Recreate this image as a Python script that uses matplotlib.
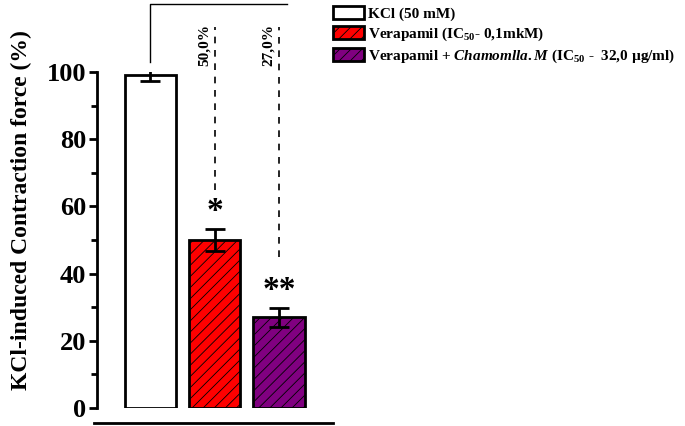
import matplotlib
matplotlib.use('Agg')
import matplotlib.pyplot as plt
from matplotlib.patches import Patch

plt.rcParams['font.family'] = 'Liberation Serif'
plt.rcParams['font.weight'] = 'bold'
plt.rcParams['mathtext.fontset'] = 'custom'
plt.rcParams['mathtext.rm'] = 'Liberation Serif:bold'
plt.rcParams['mathtext.bf'] = 'Liberation Serif:bold'
plt.rcParams['mathtext.it'] = 'Liberation Serif:bold:italic'
plt.rcParams['hatch.linewidth'] = 0.6

# data
groups = ['KCl (50 mM)',
          'Verapamil (IC$_{50}$- 0,1mkM)',
          r'Verapamil + $\mathit{Chamomlla.M}$ (IC$_{50}$ -  32,0 µg/ml)']
values = [99.0, 50.0, 27.0]
errors = [1.8, 3.4, 2.8]
colors = ['white', '#ff0000', '#800080']
hatches = [None, '///', '///']
pct_labels = ['50,0%', '27,0%']
stars = ['*', '**']

fig = plt.figure(figsize=(6.85, 4.26), dpi=100)
ax = fig.add_axes([97 / 685, 1 - 408 / 426, (333 - 97) / 685, (408 - 72) / 426])

x = list(range(len(values)))
bars = ax.bar(x, values, width=0.8, color=colors, edgecolor='black', linewidth=2,
              yerr=errors, capsize=7, error_kw=dict(elinewidth=2, capthick=2, ecolor='black'))
for b, h in zip(bars, hatches):
    if h:
        b.set_hatch(h)

ax.set_xlim(-0.83, 2.84)
ax.set_ylim(0, 100)
ax.set_xticks([])
ax.set_yticks([0, 20, 40, 60, 80, 100])
ax.set_yticks([10, 30, 50, 70, 90], minor=True)
ax.tick_params(axis='y', which='major', length=6, width=2, labelsize=19, pad=2)
ax.tick_params(axis='y', which='minor', length=4, width=2)
for lab in ax.get_yticklabels():
    lab.set_fontweight('bold')
for s in ['top', 'right', 'bottom']:
    ax.spines[s].set_visible(False)
ax.spines['left'].set_linewidth(2)
ax.set_ylabel('KCl-induced Contraction force (%)', fontsize=17, fontweight='bold')
ax.yaxis.set_label_coords(-0.275, 0.589)

# bottom line below the axis
ax.plot([-0.87, 2.84], [-4.5, -4.5], color='black', lw=2, clip_on=False)

# bracket from control bar
ax.plot([0, 0, 2.13], [103, 120.2, 120.2], color='black', lw=1, clip_on=False)
dash_tops = [113.4, 113.4]
dash_bottoms = [65, 45]
for i, (t, bt) in enumerate(zip(dash_tops, dash_bottoms)):
    ax.plot([x[i + 1], x[i + 1]], [bt, t], color='black', lw=1.2, ls=(0, (4, 4)), clip_on=False)
    ax.text(x[i + 1] - 0.16, 108, pct_labels[i], rotation=90, ha='center', va='center',
            fontsize=11, fontweight='bold')
    ax.text(x[i + 1], values[i + 1] + errors[i + 1] + 0.5, stars[i], ha='center', va='bottom',
            fontsize=24, fontweight='bold')

handles = [Patch(facecolor=c, edgecolor='black', linewidth=2, hatch=h)
           for c, h in zip(colors, hatches)]
fig.legend(handles, groups, loc='upper left', bbox_to_anchor=(327 / 685, 1.0),
           frameon=False, fontsize=11, handlelength=2.0, handleheight=0.9,
           handletextpad=0.3, labelspacing=0.3, borderaxespad=0)

fig.savefig('out.png', dpi=100)
